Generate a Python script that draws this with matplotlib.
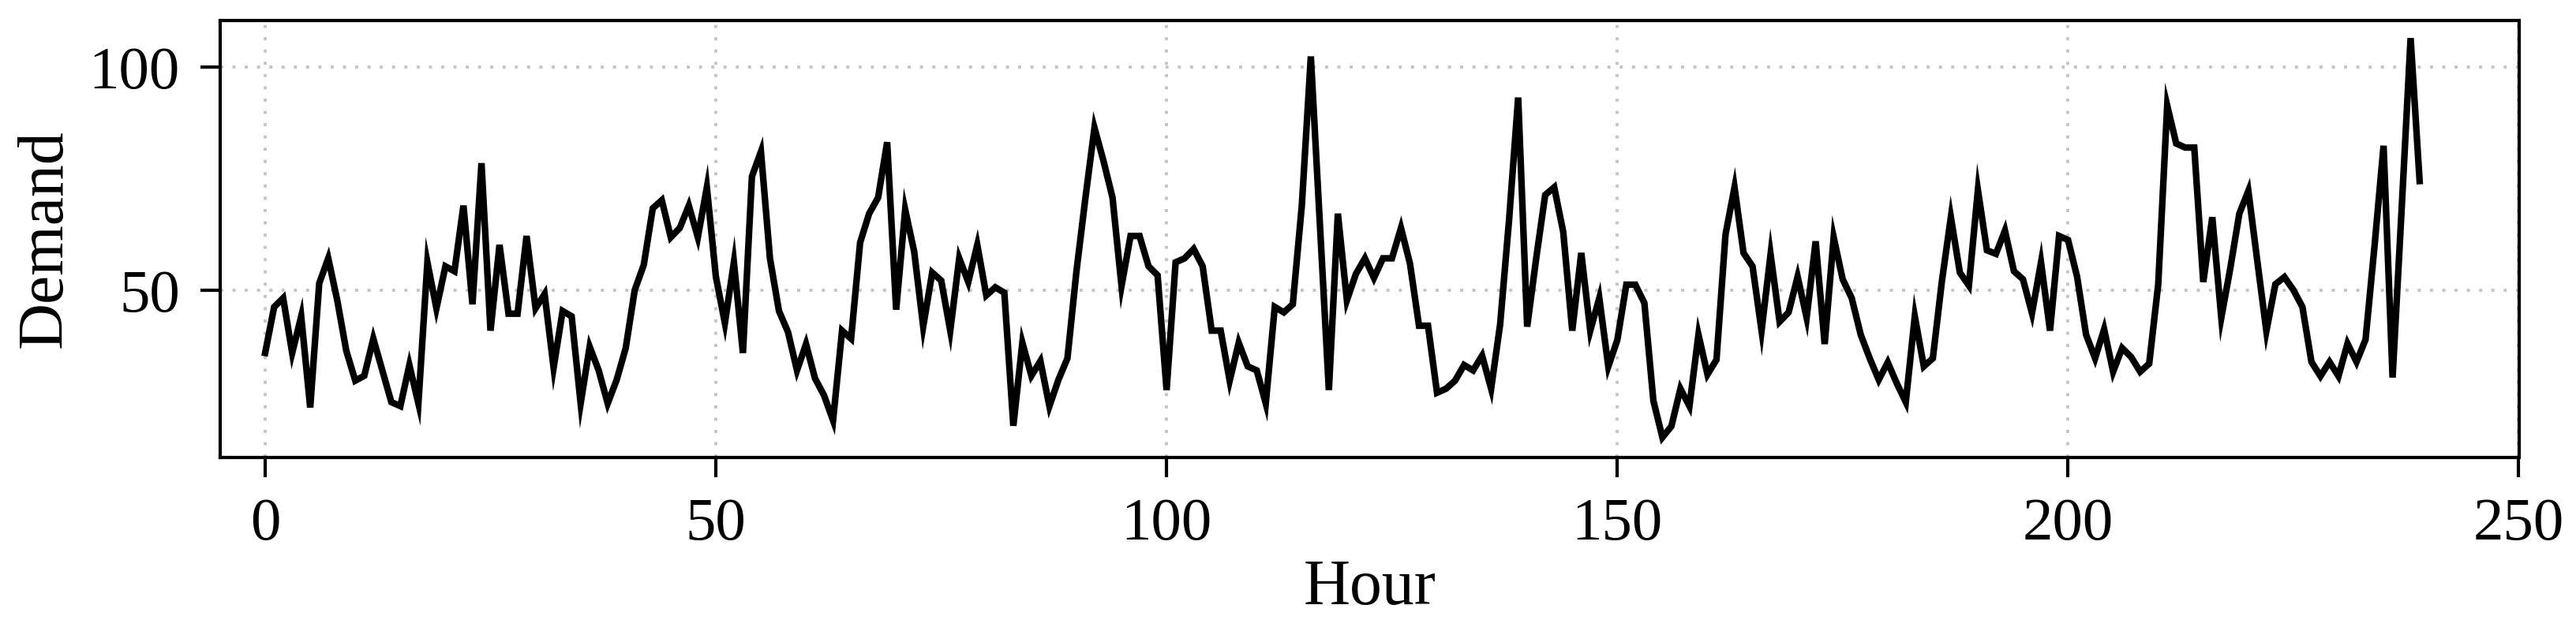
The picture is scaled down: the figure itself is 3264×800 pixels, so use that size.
import matplotlib
matplotlib.use("Agg")
import matplotlib.pyplot as plt
import numpy as np

hours = list(range(240))
demand = [
    36.0, 46.3, 48.3, 36.0, 44.2, 23.8, 51.6, 57.2, 47.8, 36.5,
    29.8, 30.9, 39.2, 32.1, 25.0, 24.1, 33.3, 24.7, 56.3, 46.0,
    55.4, 54.3, 69.0, 46.9, 78.5, 41.0, 60.2, 44.8, 44.8, 62.2,
    46.0, 49.2, 32.7, 45.4, 44.2, 24.7, 37.4, 32.1, 24.7, 30.0,
    37.1, 50.1, 55.7, 68.4, 70.2, 61.9, 64.0, 69.0, 61.9, 73.1,
    53.1, 42.7, 56.3, 36.0, 75.5, 81.1, 57.2, 45.4, 40.7, 32.1,
    38.0, 30.3, 26.5, 20.9, 41.0, 39.2, 60.7, 67.2, 70.8, 83.2,
    45.7, 68.1, 58.7, 41.9, 54.0, 52.2, 41.0, 57.2, 51.9, 60.2,
    48.9, 50.7, 49.5, 19.7, 38.3, 30.9, 34.2, 24.1, 30.0, 34.8,
    54.3, 70.8, 86.4, 79.0, 70.8, 51.0, 62.2, 62.2, 55.4, 53.4,
    27.7, 56.3, 57.2, 59.3, 55.4, 41.0, 41.0, 29.8, 38.3, 33.0,
    32.1, 24.7, 46.3, 45.1, 46.9, 69.0, 102.4, 65.0, 27.7, 67.2,
    47.8, 53.7, 57.2, 52.8, 57.2, 57.2, 64.0, 56.0, 42.1, 42.1,
    27.1, 28.0, 29.8, 33.3, 32.1, 35.4, 28.0, 42.4, 66.0, 93.2,
    41.9, 57.2, 71.4, 73.1, 63.1, 41.0, 58.4, 41.0, 48.3, 33.0,
    38.9, 51.3, 51.3, 47.2, 25.3, 17.1, 19.6, 28.0, 24.1, 40.1,
    31.2, 34.5, 62.5, 73.1, 58.4, 55.4, 41.0, 58.1, 43.0, 45.1,
    53.1, 43.9, 61.0, 38.0, 61.9, 52.5, 48.3, 40.1, 34.8, 30.0,
    33.9, 29.2, 25.0, 44.2, 33.0, 34.8, 52.0, 66.4, 54.0, 51.1,
    72.5, 59.0, 58.2, 63.4, 54.3, 52.5, 44.9, 56.3, 41.0, 62.2,
    61.3, 53.1, 40.1, 34.8, 41.3, 31.8, 37.1, 35.1, 31.8, 33.6,
    51.3, 91.4, 82.9, 82.0, 82.0, 51.9, 66.4, 43.9, 55.0, 67.2,
    72.3, 56.5, 40.9, 51.4, 53.0, 50.1, 46.3, 34.0, 30.8, 34.0,
    30.8, 38.1, 34.0, 39.0, 60.0, 82.4, 30.5, 68.0, 106.5, 74.5,
]
x_ticks = [0, 50, 100, 150, 200, 250]
y_ticks = [50, 100]
x_label = "Hour"
y_label = "Demand"

plt.rcParams['font.family'] = ['Liberation Serif', 'DejaVu Serif']

DPI = 200
fig = plt.figure(figsize=(3264 / DPI, 800 / DPI), dpi=DPI)
ax = fig.add_axes([279.3 / 3264, 1 - 580 / 800,
                   (3191.5 - 279.3) / 3264, (580 - 25.7) / 800])

ax.plot(hours, demand, color='black', linewidth=3.0, solid_joinstyle='miter')

ax.set_xlim(-4.96, 250)
ax.set_ylim(12.6, 110.5)
ax.set_xticks(x_ticks)
ax.set_yticks(y_ticks)

ax.grid(True, color='#c4c4c4', linewidth=1.4, linestyle=(0, (1, 3.0)))
ax.set_axisbelow(True)

for sp in ax.spines.values():
    sp.set_linewidth(1.5)
    sp.set_color('black')

ax.tick_params(axis='both', which='major', length=9, width=1.5,
               labelsize=27.7, pad=9.5, colors='black')

ax.set_xlabel(x_label, fontsize=29.4, labelpad=3)
ax.set_ylabel(y_label, fontsize=29.4, labelpad=6)

fig.savefig("out.png", dpi=DPI)
